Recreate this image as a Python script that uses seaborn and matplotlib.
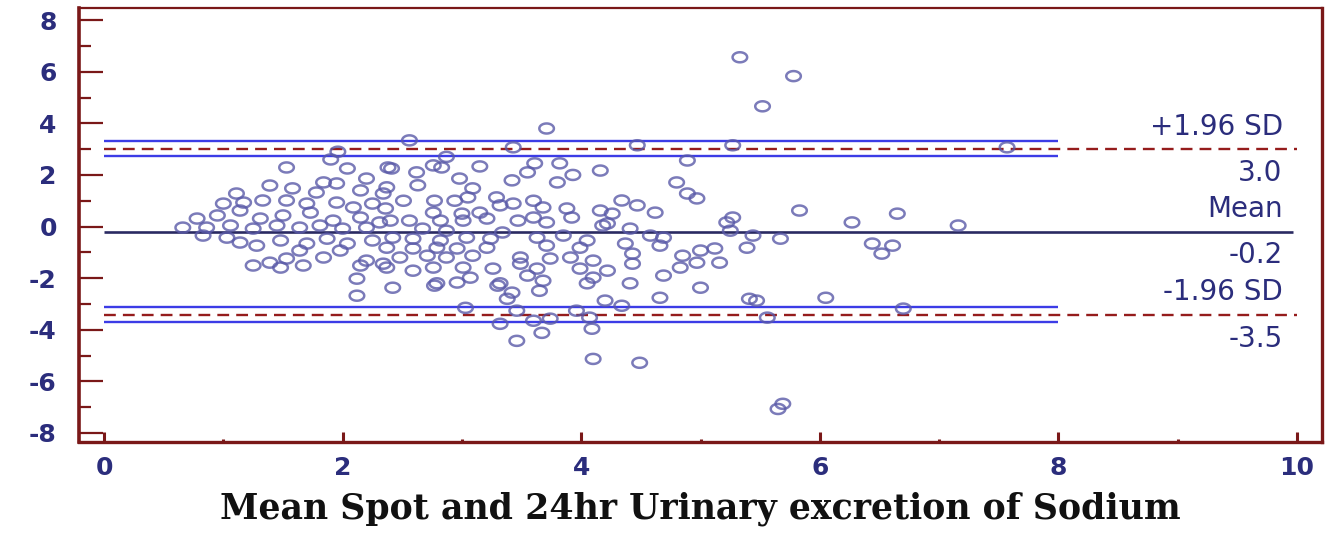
import numpy as np
import matplotlib
matplotlib.use("Agg")
import matplotlib.pyplot as plt
from matplotlib.path import Path
from matplotlib.ticker import MultipleLocator
import seaborn as sns
import pandas as pd

# ---------------- data ----------------
mean_vals = [
    5.33, 5.78, 5.52, 3.71, 2.56, 7.57, 5.27, 4.47, 1.96, 1.90, 2.87, 3.43,
    2.41, 2.62, 2.83, 3.15, 3.42, 3.55, 3.61, 3.82, 3.93, 3.80, 4.16,
    2.37, 2.63, 2.98, 3.09, 3.05, 2.94, 3.29, 3.32, 3.43, 3.60, 3.68, 3.88, 3.92, 4.16, 4.22,
    2.77, 2.51, 2.36, 2.76, 3.00, 3.15, 3.21, 3.01, 2.82, 2.56, 2.40, 3.60, 3.71, 3.47,
    2.67, 2.87, 3.34, 2.42, 2.59, 2.82, 3.04, 3.24, 3.63, 3.85,
    2.37, 2.59, 2.79, 2.96, 3.21, 3.71, 3.99, 4.05,
    2.48, 2.71, 2.87, 3.09, 3.49, 3.74, 3.91, 4.10,
    2.37, 2.59, 2.76, 3.01, 3.26, 3.49, 3.63, 3.99,
    3.07, 3.55, 3.68, 4.10, 2.79, 3.32, 2.42, 4.05,
    1.53, 2.04,
    1.11, 1.39, 1.58, 1.78, 1.84, 1.95, 2.20, 2.15, 2.34,
    1.00, 1.17, 1.33, 1.53, 1.70, 1.95, 2.09, 2.25,
    0.78, 0.95, 1.14, 1.31, 1.50, 1.73, 1.92, 2.15, 2.31,
    0.66, 0.86, 1.06, 1.25, 1.45, 1.64, 1.81, 2.00, 2.20,
    0.83, 1.03, 1.14, 1.28, 1.48, 1.70, 1.87, 2.04, 2.25,
    1.64, 1.84, 1.98, 2.20, 2.34, 1.25, 1.39, 1.53, 1.48, 1.67, 2.15, 2.12, 2.12,
    2.38, 2.76,
    4.89, 4.80, 4.89, 4.97, 4.34, 4.47, 4.62, 4.26, 5.27, 5.22, 5.83,
    4.41, 4.58, 4.69, 4.18, 5.25, 5.44, 5.67, 4.37, 4.66, 5.39,
    4.43, 4.85, 5.00, 5.12, 4.97, 5.16, 4.83, 4.43, 4.22, 4.69, 4.41, 5.00, 4.66, 5.41, 6.05,
    2.77, 2.96, 3.30, 3.42, 3.65, 3.38, 4.20, 4.34, 5.47, 5.56,
    3.03, 3.46, 3.32, 3.60, 3.74, 3.96, 4.07, 4.09, 3.67, 3.46, 4.10, 4.49, 5.69, 5.65,
    6.27, 6.65, 7.16, 6.44, 6.61, 6.52, 6.70,
]
diff_vals = [
    6.56, 5.83, 4.66, 3.80, 3.34, 3.07, 3.15, 3.15, 2.90, 2.60, 2.70, 3.07,
    2.25, 2.10, 2.29, 2.33, 1.79, 2.10, 2.45, 2.45, 2.00, 1.71, 2.17,
    1.52, 1.60, 1.86, 1.48, 1.13, 1.00, 1.13, 0.82, 0.89, 1.00, 0.74, 0.70, 0.35, 0.62, 0.12,
    1.00, 1.00, 0.70, 0.54, 0.50, 0.54, 0.31, 0.23, 0.23, 0.23, 0.23, 0.35, 0.16, 0.23,
    -0.08, -0.16, -0.23, -0.43, -0.47, -0.54, -0.43, -0.47, -0.43, -0.35,
    -0.82, -0.85, -0.82, -0.85, -0.82, -0.74, -0.82, -0.54,
    -1.20, -1.13, -1.20, -1.13, -1.20, -1.24, -1.20, -1.32,
    -1.59, -1.71, -1.59, -1.59, -1.63, -1.44, -1.63, -1.63,
    -1.98, -1.90, -2.10, -1.98, -2.20, -2.20, -2.37, -2.20,
    2.29, 2.25,
    1.28, 1.59, 1.48, 1.32, 1.71, 1.67, 1.86, 1.40, 1.28,
    0.89, 0.93, 1.01, 1.01, 0.89, 0.93, 0.74, 0.89,
    0.31, 0.43, 0.62, 0.31, 0.43, 0.54, 0.23, 0.35, 0.16,
    -0.04, -0.04, 0.04, -0.08, 0.04, -0.04, 0.04, -0.08, -0.04,
    -0.35, -0.43, -0.62, -0.74, -0.54, -0.66, -0.47, -0.66, -0.54,
    -0.93, -1.20, -0.93, -1.32, -1.44, -1.51, -1.40, -1.24, -1.59, -1.51, -1.51, -2.02, -2.68,
    2.29, 2.37,
    2.56, 1.71, 1.28, 1.09, 1.01, 0.82, 0.54, 0.50, 0.35, 0.16, 0.62,
    -0.08, -0.35, -0.43, 0.04, -0.16, -0.35, -0.47, -0.66, -0.74, -0.82,
    -1.05, -1.13, -0.93, -0.85, -1.40, -1.40, -1.59, -1.44, -1.71, -1.90, -2.20, -2.37, -2.76, -2.80, -2.76,
    -2.29, -2.17, -2.29, -2.56, -2.49, -2.80, -2.87, -3.07, -2.87, -3.53,
    -3.15, -3.26, -3.77, -3.65, -3.57, -3.26, -3.53, -3.96, -4.12, -4.43, -5.13, -5.28, -6.87, -7.07,
    0.16, 0.50, 0.04, -0.66, -0.74, -1.05, -3.18,
]

mean_diff = -0.2
loa_upper = 3.0
loa_lower = -3.42
ci_upper = [3.30, 2.74]
ci_lower = [-3.13, -3.68]
ref_labels = ["+1.96 SD", "Mean", "-1.96 SD"]
value_labels = ["3.0", "-0.2", "-3.5"]
x_label = "Mean Spot and 24hr Urinary excretion of Sodium"

x_ticks = [0, 2, 4, 6, 8, 10]
y_ticks = [-8, -6, -4, -2, 0, 2, 4, 6, 8]

df = pd.DataFrame({"mean": mean_vals, "diff": diff_vals})

# ---------------- style ----------------
sns.set_theme(style="white")
plt.rcParams["font.family"] = ["DejaVu Sans"]
plt.rcParams["axes.unicode_minus"] = False

maroon = "#7a1818"
navy = "#2b2d7c"
blue = "#3c3ce6"
dash_red = "#951c1c"
mean_col = "#2a2a62"
marker_col = "#5a5aa8"

W, H = 1339, 537
fig = plt.figure(figsize=(W / 100, H / 100), dpi=100)
ax = fig.add_axes([79 / W, 1 - 442 / H, (1322 - 79) / W, (442 - 8) / H])

# elliptical open marker (picture is stretched horizontally)
t = np.linspace(0, 2 * np.pi, 60)
ell = Path(np.column_stack([1.45 * np.cos(t), np.sin(t)]), closed=True)

sns.scatterplot(data=df, x="mean", y="diff", ax=ax, marker=ell, s=110,
                facecolor="none", edgecolor=marker_col, linewidth=1.8,
                alpha=0.8, zorder=3, legend=False)

# reference lines
ax.hlines(ci_upper + ci_lower, 0, 8, colors=blue, linewidth=1.7, zorder=2)
ax.hlines([loa_upper, loa_lower], 0, 10, colors=dash_red, linewidth=1.7,
          linestyles=(0, (5, 3)), zorder=2)
ax.hlines([mean_diff], 0, 9.97, colors=mean_col, linewidth=1.9, zorder=2)

# annotations
tx = 9.88
fs_ann = 20
for lbl, val, y in zip(ref_labels, value_labels, [loa_upper, mean_diff, loa_lower]):
    ax.annotate(lbl, xy=(tx, y), xytext=(0, 6), textcoords="offset points",
                ha="right", va="bottom", color=navy, fontsize=fs_ann)
    ax.annotate(val, xy=(tx, y), xytext=(0, -7), textcoords="offset points",
                ha="right", va="top", color=navy, fontsize=fs_ann)

# axes limits & ticks
ax.set_xlim(-0.21, 10.21)
ax.set_ylim(-8.35, 8.47)
ax.set_xticks(x_ticks)
ax.set_yticks(y_ticks)
ax.xaxis.set_minor_locator(MultipleLocator(1))
ax.yaxis.set_minor_locator(MultipleLocator(1))
ax.tick_params(axis="y", which="major", direction="in", length=17, width=1.6,
               color=maroon, labelcolor=navy, labelsize=18, pad=16, left=True)
ax.tick_params(axis="y", which="minor", direction="in", length=8.5, width=1.6,
               color=maroon, left=True)
ax.tick_params(axis="x", which="major", direction="in", length=7, width=2.2,
               color=maroon, labelcolor=navy, labelsize=18, pad=10, bottom=True)
ax.tick_params(axis="x", which="minor", direction="in", length=2, width=2.2,
               color=maroon, bottom=True)
for lab in ax.get_xticklabels() + ax.get_yticklabels():
    lab.set_fontweight("bold")

ax.set_xlabel(x_label, fontsize=25, fontweight="bold", family="DejaVu Serif",
              color="#111111", labelpad=8)
ax.set_ylabel("")

for side, lw in [("left", 2.6), ("bottom", 2.4), ("top", 1.6), ("right", 2.4)]:
    ax.spines[side].set_visible(True)
    ax.spines[side].set_color(maroon)
    ax.spines[side].set_linewidth(lw)

fig.savefig("out.png", dpi=100)
